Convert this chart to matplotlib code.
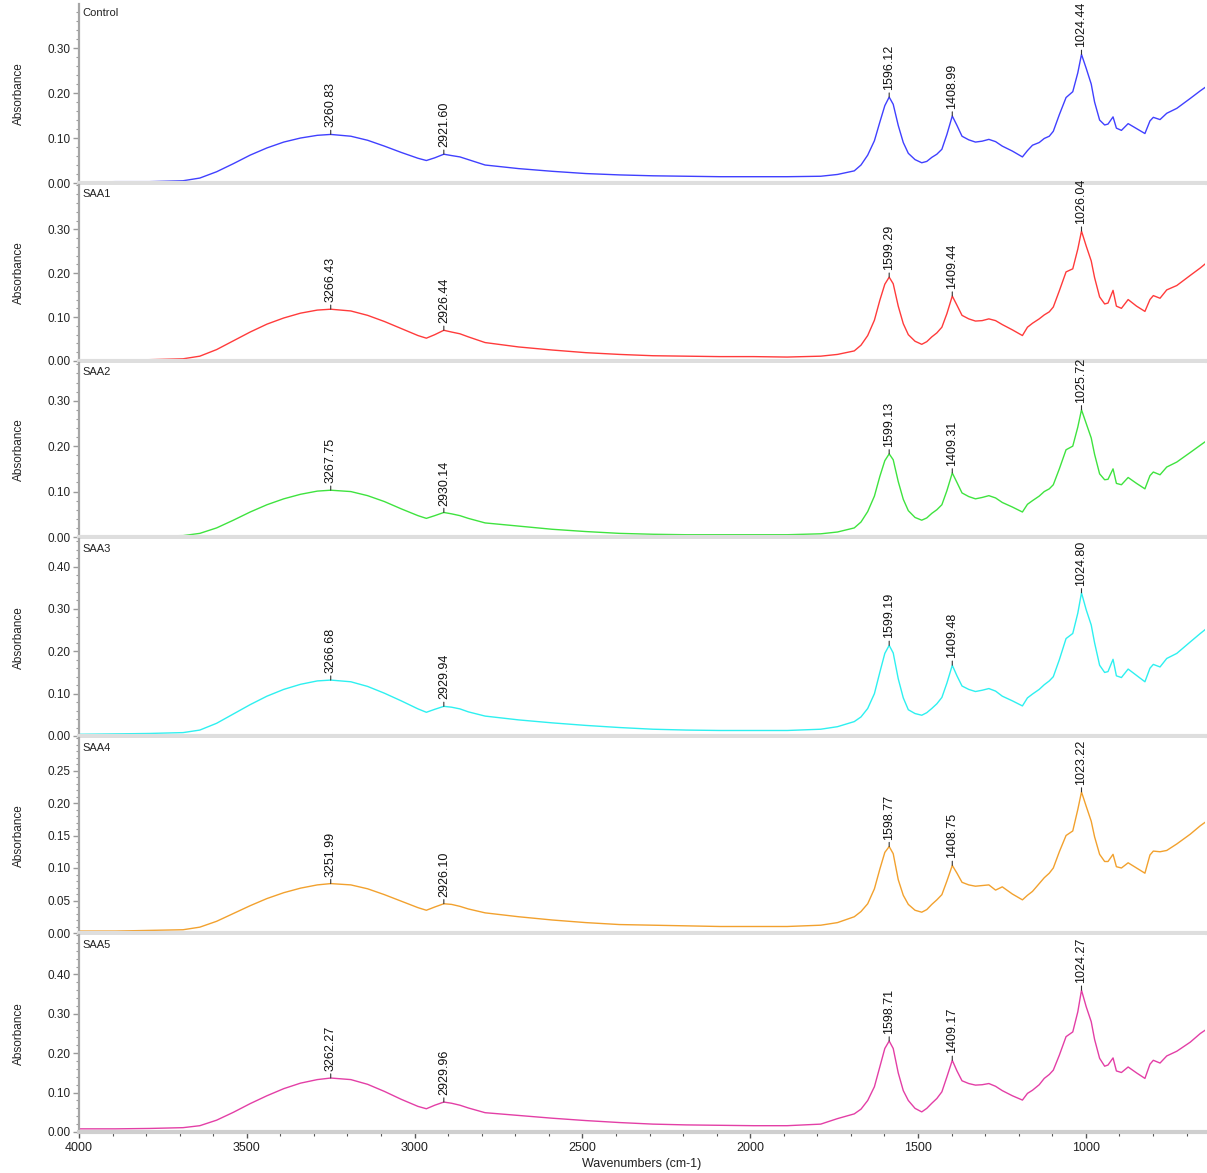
import numpy as np
import matplotlib
matplotlib.use("Agg")
import matplotlib.pyplot as plt
from matplotlib.ticker import MultipleLocator, FormatStrFormatter

plt.rcParams['font.family'] = ['Liberation Sans', 'DejaVu Sans']

# wavenumber grid (cm-1)
wn = [4000, 3890, 3790, 3690, 3640, 3590, 3540, 3490, 3440, 3390, 3340, 3290,
      3250, 3190, 3140, 3090, 3040, 2990, 2965, 2940, 2913, 2890, 2865, 2840,
      2790, 2690, 2590, 2490, 2390, 2290, 2190, 2090, 1990, 1890, 1790, 1740,
      1690, 1670, 1650, 1630, 1614, 1599, 1586, 1574, 1559, 1544, 1529, 1509,
      1489, 1474, 1459, 1444, 1429, 1414, 1398, 1384, 1369, 1349, 1329, 1309,
      1289, 1269, 1249, 1219, 1189, 1174, 1159, 1139, 1124, 1109, 1097, 1079,
      1059, 1039, 1024, 1013, 999, 984, 974, 959, 944, 934, 919, 909,
      894, 874, 849, 824, 809, 799, 779, 759, 729, 689, 659, 640]

control = [0.002, 0.003, 0.003, 0.005, 0.011, 0.025, 0.043, 0.062, 0.078, 0.091, 0.100, 0.106,
           0.108, 0.104, 0.095, 0.082, 0.068, 0.055, 0.050, 0.056, 0.064, 0.061, 0.058, 0.052,
           0.040, 0.032, 0.026, 0.021, 0.018, 0.016, 0.015, 0.014, 0.014, 0.014, 0.015, 0.019,
           0.027, 0.040, 0.062, 0.094, 0.135, 0.172, 0.191, 0.175, 0.128, 0.090, 0.066, 0.052,
           0.045, 0.048, 0.057, 0.064, 0.075, 0.108, 0.149, 0.128, 0.104, 0.096, 0.091, 0.093,
           0.097, 0.092, 0.082, 0.071, 0.058, 0.072, 0.084, 0.090, 0.099, 0.104, 0.115, 0.152,
           0.190, 0.203, 0.245, 0.286, 0.255, 0.220, 0.180, 0.140, 0.129, 0.131, 0.147, 0.122,
           0.117, 0.132, 0.121, 0.110, 0.138, 0.146, 0.141, 0.155, 0.166, 0.188, 0.205, 0.215]

saa1 = [0.002, 0.002, 0.003, 0.005, 0.011, 0.026, 0.046, 0.066, 0.084, 0.098, 0.109, 0.116,
        0.118, 0.114, 0.104, 0.090, 0.074, 0.058, 0.052, 0.060, 0.070, 0.066, 0.062, 0.055,
        0.042, 0.032, 0.025, 0.019, 0.015, 0.012, 0.011, 0.010, 0.010, 0.009, 0.011, 0.015,
        0.023, 0.036, 0.058, 0.093, 0.138, 0.175, 0.191, 0.176, 0.125, 0.085, 0.060, 0.045,
        0.038, 0.044, 0.055, 0.064, 0.077, 0.108, 0.148, 0.127, 0.104, 0.096, 0.091, 0.092,
        0.096, 0.092, 0.083, 0.071, 0.058, 0.077, 0.086, 0.096, 0.105, 0.112, 0.123, 0.160,
        0.203, 0.210, 0.255, 0.296, 0.262, 0.228, 0.190, 0.146, 0.130, 0.132, 0.161, 0.125,
        0.120, 0.140, 0.125, 0.113, 0.140, 0.149, 0.143, 0.162, 0.172, 0.195, 0.212, 0.224]

saa2 = [0.001, 0.001, 0.002, 0.003, 0.008, 0.020, 0.037, 0.055, 0.071, 0.084, 0.094, 0.101,
        0.103, 0.100, 0.091, 0.078, 0.062, 0.047, 0.041, 0.047, 0.054, 0.051, 0.047, 0.041,
        0.031, 0.024, 0.017, 0.012, 0.008, 0.006, 0.005, 0.005, 0.005, 0.005, 0.007, 0.011,
        0.020, 0.033, 0.056, 0.090, 0.133, 0.168, 0.183, 0.170, 0.122, 0.083, 0.058, 0.043,
        0.037, 0.042, 0.052, 0.060, 0.071, 0.102, 0.141, 0.120, 0.097, 0.089, 0.084, 0.087,
        0.091, 0.086, 0.076, 0.066, 0.055, 0.072, 0.080, 0.090, 0.100, 0.106, 0.115, 0.150,
        0.192, 0.200, 0.242, 0.280, 0.250, 0.218, 0.182, 0.139, 0.126, 0.127, 0.150, 0.118,
        0.115, 0.131, 0.118, 0.106, 0.135, 0.143, 0.137, 0.154, 0.165, 0.186, 0.202, 0.212]

saa3 = [0.004, 0.005, 0.006, 0.008, 0.014, 0.030, 0.052, 0.074, 0.094, 0.110, 0.122, 0.130,
        0.132, 0.128, 0.117, 0.101, 0.083, 0.064, 0.056, 0.063, 0.070, 0.068, 0.064, 0.057,
        0.047, 0.038, 0.031, 0.025, 0.020, 0.016, 0.014, 0.013, 0.013, 0.013, 0.016, 0.022,
        0.034, 0.045, 0.065, 0.100, 0.150, 0.195, 0.214, 0.196, 0.135, 0.090, 0.062, 0.053,
        0.049, 0.055, 0.065, 0.076, 0.091, 0.125, 0.167, 0.142, 0.118, 0.110, 0.105, 0.108,
        0.112, 0.106, 0.094, 0.083, 0.071, 0.090, 0.099, 0.110, 0.121, 0.130, 0.140, 0.180,
        0.230, 0.242, 0.290, 0.338, 0.298, 0.262, 0.220, 0.167, 0.150, 0.152, 0.181, 0.142,
        0.138, 0.158, 0.143, 0.128, 0.160, 0.169, 0.163, 0.183, 0.195, 0.222, 0.242, 0.254]

saa4 = [0.003, 0.003, 0.004, 0.005, 0.009, 0.018, 0.030, 0.042, 0.053, 0.062, 0.069, 0.074,
        0.076, 0.074, 0.068, 0.059, 0.049, 0.039, 0.035, 0.040, 0.045, 0.044, 0.041, 0.037,
        0.031, 0.025, 0.020, 0.016, 0.013, 0.012, 0.011, 0.010, 0.010, 0.010, 0.012, 0.016,
        0.025, 0.033, 0.045, 0.068, 0.098, 0.124, 0.133, 0.122, 0.082, 0.058, 0.044, 0.035,
        0.032, 0.036, 0.044, 0.051, 0.059, 0.080, 0.104, 0.092, 0.078, 0.074, 0.072, 0.073,
        0.074, 0.066, 0.071, 0.060, 0.051, 0.058, 0.064, 0.076, 0.085, 0.092, 0.100, 0.125,
        0.150, 0.157, 0.190, 0.217, 0.195, 0.172, 0.148, 0.121, 0.110, 0.110, 0.121, 0.102,
        0.100, 0.108, 0.100, 0.092, 0.120, 0.126, 0.125, 0.127, 0.137, 0.152, 0.165, 0.172]

saa5 = [0.008, 0.008, 0.009, 0.011, 0.016, 0.030, 0.050, 0.072, 0.092, 0.110, 0.124, 0.133,
        0.137, 0.133, 0.121, 0.103, 0.083, 0.065, 0.059, 0.068, 0.076, 0.073, 0.068, 0.061,
        0.049, 0.042, 0.035, 0.029, 0.024, 0.020, 0.018, 0.017, 0.016, 0.016, 0.020, 0.034,
        0.046, 0.058, 0.080, 0.115, 0.165, 0.212, 0.231, 0.212, 0.150, 0.105, 0.080, 0.060,
        0.051, 0.060, 0.073, 0.085, 0.102, 0.140, 0.182, 0.155, 0.130, 0.123, 0.119, 0.120,
        0.123, 0.116, 0.105, 0.092, 0.081, 0.098, 0.106, 0.120, 0.136, 0.146, 0.157, 0.195,
        0.242, 0.254, 0.305, 0.360, 0.318, 0.280, 0.235, 0.187, 0.167, 0.170, 0.188, 0.155,
        0.151, 0.165, 0.150, 0.136, 0.172, 0.182, 0.175, 0.193, 0.205, 0.228, 0.250, 0.261]

names = ['Control', 'SAA1', 'SAA2', 'SAA3', 'SAA4', 'SAA5']
spectra = [control, saa1, saa2, saa3, saa4, saa5]
colors = ['#4040ff', '#ff3b3b', '#3fe33f', '#2ef0f0', '#f2a12e', '#e33fa6']

peaks = [
    [3260.83, 2921.60, 1596.12, 1408.99, 1024.44],
    [3266.43, 2926.44, 1599.29, 1409.44, 1026.04],
    [3267.75, 2930.14, 1599.13, 1409.31, 1025.72],
    [3266.68, 2929.94, 1599.19, 1409.48, 1024.80],
    [3251.99, 2926.10, 1598.77, 1408.75, 1023.22],
    [3262.27, 2929.96, 1598.71, 1409.17, 1024.27],
]

# panel geometry (pixel rows), y-axis top, major / minor steps
panel_px = [(4, 183), (185, 361), (363, 537), (539, 736), (738, 933), (935, 1132)]
ytops = [0.398, 0.401, 0.383, 0.465, 0.300, 0.500]
ymaxtick = [0.30, 0.30, 0.30, 0.40, 0.25, 0.40]
ymajor = [0.10, 0.10, 0.10, 0.10, 0.05, 0.10]
yminor = [0.02, 0.02, 0.02, 0.02, 0.01, 0.02]

W, H = 1207, 1173
fig = plt.figure(figsize=(W / 100, H / 100), dpi=100)

x = np.array(wn)
left_px, right_px = 79, 1205

for i, name in enumerate(names):
    top, bot = panel_px[i]
    ax = fig.add_axes([left_px / W, 1 - bot / H, (right_px - left_px) / W, (bot - top) / H])
    y = np.array(spectra[i])
    ax.plot(x, y, color=colors[i], lw=1.0)
    ax.set_xlim(4000, 645)
    ax.set_ylim(0, ytops[i])

    ax.yaxis.set_minor_locator(MultipleLocator(yminor[i]))
    ax.set_yticks(np.arange(0, ymaxtick[i] + 1e-6, ymajor[i]))
    ax.yaxis.set_major_formatter(FormatStrFormatter('%.2f'))
    ax.tick_params(axis='y', which='major', direction='out', length=4, width=1,
                   color='#9a9a9a', labelsize=8.5, labelcolor='#222222', pad=2)
    ax.tick_params(axis='y', which='minor', direction='out', length=2.5, width=0.8,
                   color='#9a9a9a')

    for s in ['top', 'right']:
        ax.spines[s].set_visible(False)
    ax.spines['left'].set_color('#a6a6a6')
    ax.spines['left'].set_linewidth(1.6)
    ax.spines['bottom'].set_color('#dedede')
    ax.spines['bottom'].set_linewidth(3)

    ax.set_ylabel('Absorbance', fontsize=8.5, color='#222222')
    ax.yaxis.set_label_coords(-0.048, 0.5)
    ax.text(0.003, 0.975, name, transform=ax.transAxes, ha='left', va='top',
            fontsize=8, color='#222222')

    # peak labels, put on the local maximum found near each labelled wavenumber
    for p in peaks[i]:
        near = np.where(np.abs(x - p) < 25)[0]
        k = near[np.argmax(y[near])]
        ax.annotate('%.2f' % p, xy=(x[k], y[k]), xytext=(0, 5), textcoords='offset points',
                    rotation=90, ha='center', va='bottom', fontsize=9, color='#111111',
                    arrowprops=dict(arrowstyle='-', color='#333333', lw=0.8,
                                    shrinkA=0, shrinkB=0))

    if i < len(names) - 1:
        ax.set_xticks([])
    else:
        ax.xaxis.set_major_locator(MultipleLocator(500))
        ax.xaxis.set_minor_locator(MultipleLocator(100))
        ax.tick_params(axis='x', which='major', direction='out', length=4, width=1,
                       color='#555555', labelsize=9, labelcolor='#222222', pad=3)
        ax.tick_params(axis='x', which='minor', direction='out', length=3, width=0.8,
                       color='#555555')
        ax.spines['bottom'].set_color('#cfcfcf')
        ax.set_xlabel('Wavenumbers (cm-1)', fontsize=9, color='#222222', labelpad=3)

fig.savefig('out.png', dpi=100)
